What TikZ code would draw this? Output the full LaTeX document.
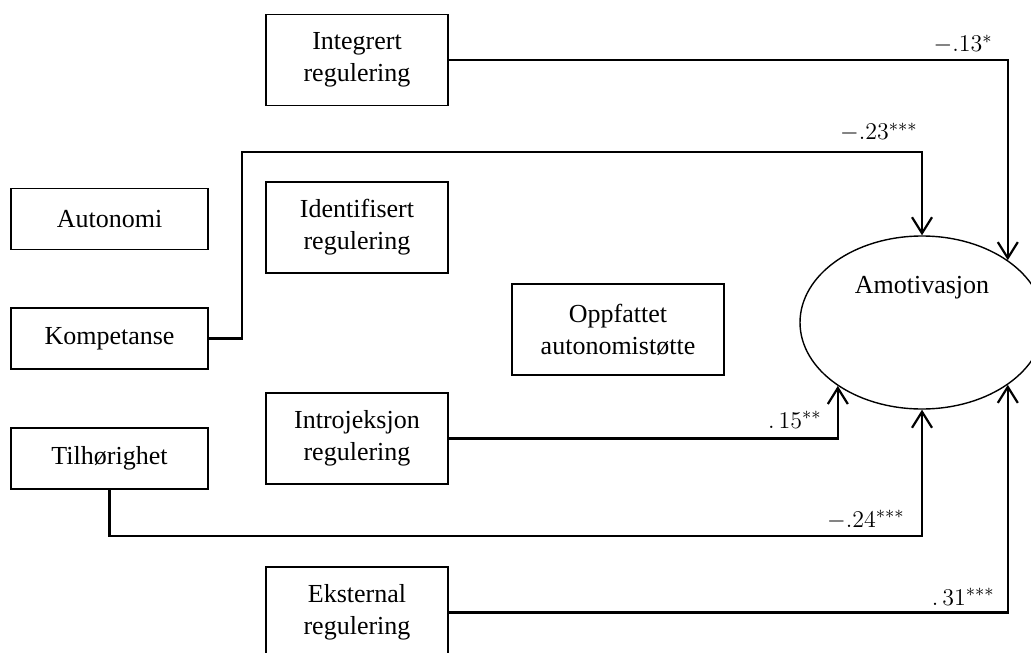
\documentclass[tikz,border=0pt]{standalone}
\usepackage{fontspec}
\setmainfont{Liberation Serif}
\usetikzlibrary{arrows.meta,shapes.geometric}
\tikzset{
  box/.style={draw, line width=0.85pt, rectangle, align=center, inner sep=0pt,
    font=\fontsize{13}{16}\selectfont},
  regbox/.style={box, minimum width=91pt, minimum height=45.5pt},
  smallbox/.style={box, minimum width=98.5pt, minimum height=30.5pt},
  conn/.style={line width=1.1pt},
  arr/.style={conn, -{Straight Barb[length=8pt,width=10pt,line width=1.1pt]}},
  coef/.style={inner sep=0pt, anchor=base east, font=\fontsize{13}{16}\selectfont}
}
\begin{document}
\begin{tikzpicture}[x=0.5pt,y=-0.5pt]
\useasboundingbox (0,0) rectangle (1031,652);
% boxes
\node[regbox] (int) at (357,60) {Integrert\\regulering};
\node[regbox] (ide) at (357,227.5) {Identifisert\\regulering};
\node[regbox] (intro) at (357,438.5) {Introjeksjon\\regulering};
\node[regbox] (eks) at (357,612.5) {Eksternal\\regulering};
\node[smallbox] (aut) at (109.5,219) {Autonomi};
\node[smallbox] (komp) at (109.5,338.5) {Kompetanse};
\node[smallbox] (til) at (109.5,458.5) {Tilhørighet};
\node[box, minimum width=106pt, minimum height=45.5pt] (opp) at (618,329.5) {Oppfattet\\autonomistøtte};
% ellipse
\node[draw, ellipse, line width=0.7pt, inner sep=0pt, minimum width=122pt, minimum height=86.5pt,
  text height=9pt, text depth=38.5pt, font=\fontsize{13}{16}\selectfont] (amo) at (922,322.5) {Amotivasjon};
% helper coordinates
\coordinate (kc) at (242,152);
\coordinate (tc) at (109.5,536);
% connectors
\draw[arr] (int.east) -| (amo.36);
\draw[arr] (komp.east) -| (kc) -| (amo.north);
\draw[arr] (intro.east) -| (amo.-143.5);
\draw[arr] (til.south) -- (tc) -| (amo.south);
\draw[arr] (eks.east) -| (amo.-36);
% coefficients
\node[coef] (c1) at (993,52) {$-.13^{*}$};
\node[coef] (c2) at (918,140) {$-.23^{***}$};
\node[coef] (c3) at (822,428) {$.\,15^{**}$};
\node[coef] (c4) at (905,527) {$-.24^{***}$};
\node[coef] (c5) at (995,605) {$.\,31^{***}$};
\end{tikzpicture}
\end{document}
